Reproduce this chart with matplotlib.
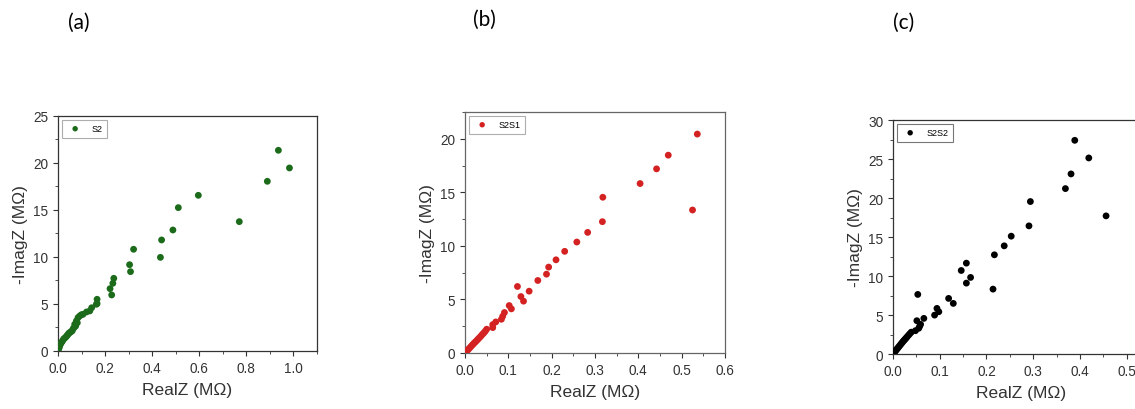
import matplotlib.pyplot as plt
from matplotlib.ticker import MultipleLocator

# --- DATA ---
# (a) S2
s2_real = [0.002, 0.005, 0.007, 0.010, 0.013, 0.017, 0.021, 0.025, 0.029, 0.034,
           0.038, 0.042, 0.046, 0.050, 0.055, 0.060, 0.064, 0.068, 0.071, 0.075,
           0.078, 0.082, 0.085, 0.092, 0.099, 0.106, 0.121, 0.135, 0.143, 0.163,
           0.166, 0.166, 0.221, 0.228, 0.233, 0.237, 0.304, 0.308, 0.321, 0.435,
           0.440, 0.488, 0.511, 0.596, 0.770, 0.889, 0.936, 0.983]
s2_imag = [0.15, 0.35, 0.53, 0.70, 0.85, 0.98, 1.15, 1.30, 1.38, 1.50,
           1.62, 1.75, 1.88, 1.96, 2.05, 2.13, 2.35, 2.49, 2.84, 2.65,
           3.19, 3.00, 3.55, 3.72, 3.85, 3.90, 4.15, 4.26, 4.60, 4.97,
           5.04, 5.50, 6.63, 5.96, 7.20, 7.73, 9.18, 8.44, 10.82, 9.96,
           11.81, 12.87, 15.25, 16.56, 13.76, 18.05, 21.35, 19.47]

# (b) S2S1
s2s1_real = [0.002, 0.005, 0.008, 0.011, 0.014, 0.017, 0.020, 0.023, 0.026, 0.029,
             0.032, 0.035, 0.038, 0.041, 0.044, 0.047, 0.050, 0.064, 0.064, 0.071,
             0.084, 0.087, 0.091, 0.102, 0.107, 0.121, 0.129, 0.135, 0.148, 0.168,
             0.188, 0.193, 0.210, 0.230, 0.258, 0.283, 0.317, 0.318, 0.404, 0.442,
             0.469, 0.525, 0.536]
s2s1_imag = [0.10, 0.22, 0.35, 0.48, 0.62, 0.75, 0.88, 1.00, 1.12, 1.25,
             1.38, 1.50, 1.64, 1.78, 1.90, 2.05, 2.22, 2.37, 2.65, 2.90,
             3.15, 3.43, 3.78, 4.43, 4.12, 6.21, 5.27, 4.84, 5.77, 6.77,
             7.36, 8.02, 8.70, 9.49, 10.36, 11.26, 12.26, 14.54, 15.82, 17.19,
             18.47, 13.35, 20.44]

# (c) S2S2
s2s2_real = [0.002, 0.004, 0.006, 0.008, 0.010, 0.012, 0.014, 0.016, 0.018, 0.020,
             0.022, 0.024, 0.026, 0.028, 0.030, 0.033, 0.036, 0.039, 0.048, 0.051,
             0.053, 0.055, 0.057, 0.059, 0.066, 0.089, 0.094, 0.098, 0.119, 0.129,
             0.146, 0.157, 0.157, 0.166, 0.214, 0.217, 0.238, 0.253, 0.291, 0.294,
             0.369, 0.381, 0.389, 0.419, 0.456]
s2s2_imag = [0.15, 0.30, 0.45, 0.60, 0.75, 0.90, 1.05, 1.20, 1.35, 1.50,
             1.65, 1.78, 1.92, 2.05, 2.20, 2.40, 2.60, 2.80, 2.99, 4.27,
             7.64, 3.30, 3.55, 3.80, 4.57, 4.99, 5.85, 5.42, 7.13, 6.49,
             10.71, 11.65, 9.09, 9.82, 8.32, 12.72, 13.87, 15.11, 16.43, 19.55,
             21.21, 23.09, 27.40, 25.14, 17.71]

panel_labels = ['(a)', '(b)', '(c)']

# --- FIGURE ---
fig = plt.figure(figsize=(11.35, 4.1), dpi=100)
plt.rcParams['font.family'] = ['Liberation Sans', 'DejaVu Sans']

axes_pos = [[0.0511, 0.1415, 0.2282, 0.5732],
            [0.4097, 0.1366, 0.2291, 0.5878],
            [0.7868, 0.1341, 0.2264, 0.5707]]

panels = [
    (s2_real, s2_imag, 'S2', '#1b6b1b', (0, 1.1), (0, 25), 0.2, 5, '#999999', '#333333'),
    (s2s1_real, s2s1_imag, 'S2S1', '#d42222', (0, 0.6), (0, 22.5), 0.1, 5, '#9a9a9a', '#666666'),
    (s2s2_real, s2s2_imag, 'S2S2', '#000000', (0, 0.55), (0, 30), 0.1, 5, '#555555', '#333333'),
]

for pos, (x, y, name, col, xl, yl, xstep, ystep, lgcol, spcol) in zip(axes_pos, panels):
    ax = fig.add_axes(pos)
    ax.scatter(x, y, s=24, color=col, edgecolors='none', label=name, zorder=3)
    ax.set_xlim(*xl)
    ax.set_ylim(*yl)
    ax.xaxis.set_major_locator(MultipleLocator(xstep))
    ax.xaxis.set_minor_locator(MultipleLocator(xstep / 2))
    ax.yaxis.set_major_locator(MultipleLocator(ystep))
    ax.yaxis.set_minor_locator(MultipleLocator(ystep / 2))
    ax.xaxis.set_major_formatter(plt.FormatStrFormatter('%.1f'))
    ax.tick_params(which='major', direction='out', length=3.5, width=0.8,
                   labelsize=9.8, colors='#333333', labelcolor='#333333')
    ax.tick_params(which='minor', direction='out', length=2, width=0.6, colors='#333333')
    for sp in ax.spines.values():
        sp.set_color(spcol)
        sp.set_linewidth(0.9)
    ax.set_xlabel('RealZ (MΩ)', fontsize=12.5, color='#333333', labelpad=5)
    ax.set_ylabel('-ImagZ (MΩ)', fontsize=12.5, color='#333333', labelpad=4)
    leg = ax.legend(loc='upper left', fontsize=6.5, frameon=True, fancybox=False,
                    handletextpad=0.8, borderpad=0.5, markerscale=0.8,
                    borderaxespad=0.4)
    leg.get_frame().set_edgecolor(lgcol)
    leg.get_frame().set_linewidth(0.8)

# panel letters
fig.text(0.069, 0.945, panel_labels[0], fontsize=15, family='Lato', ha='center', va='center')
fig.text(0.427, 0.952, panel_labels[1], fontsize=15, family='Lato', ha='center', va='center')
fig.text(0.796, 0.945, panel_labels[2], fontsize=15, family='Lato', ha='center', va='center')

fig.savefig('out.png', dpi=100)
